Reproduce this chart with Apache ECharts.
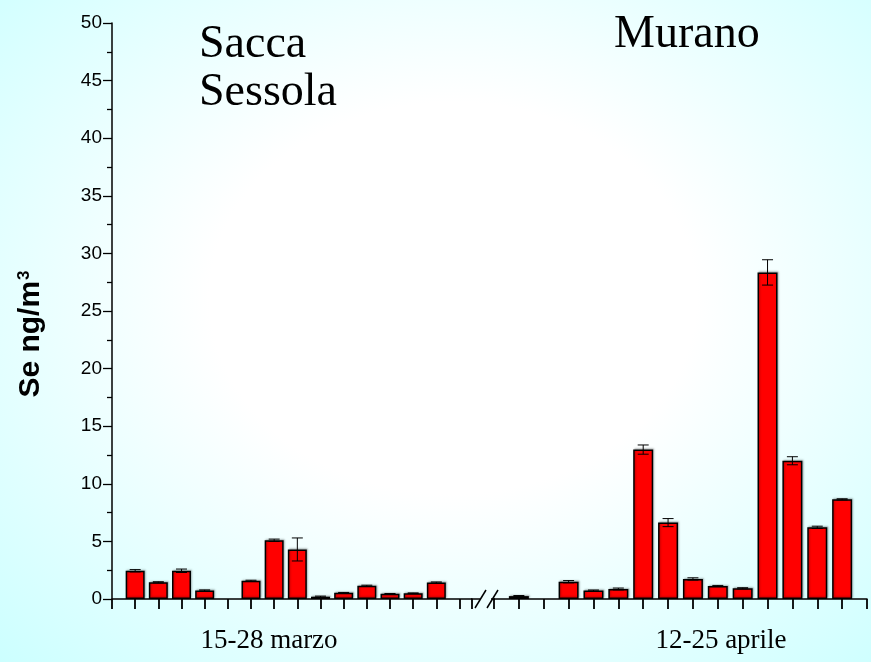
<!DOCTYPE html>
<html>
<head>
<meta charset="utf-8">
<script src="https://cdn.jsdelivr.net/npm/echarts@6/dist/echarts.min.js"></script>
<style>
html,body{margin:0;padding:0;}
#c{width:871px;height:662px;background:radial-gradient(ellipse farthest-corner at 52% 45%, #ffffff 0%, #ffffff 38%, #ccffff 100%);}
</style>
</head>
<body>
<div id="c"></div>
<script>
// slot positions along each axis segment (tick index)
const marzoSlots  = [1, 2, 3, 4, 5, 6, 7, 8, 9, 10, 11, 12, 13, 14];
const marzoValues = [2.45, 1.45, 2.45, 0.74, null, 1.58, 5.1, 4.3, 0.2, 0.54, 1.15, 0.45, 0.5, 1.43];
const marzoErrors = [0.1, 0.05, 0.15, 0.05, null, 0.05, 0.1, 1.0, 0.05, 0.03, 0.05, 0.03, 0.03, 0.05];
const aprileSlots  = [1, 2, 3, 4, 5, 6, 7, 8, 9, 10, 11, 12, 13, 14];
const aprileValues = [0.25, null, 1.5, 0.73, 0.87, 12.97, 6.63, 1.74, 1.13, 0.93, 28.35, 12.0, 6.22, 8.65];
const aprileErrors = [0.05, null, 0.1, 0.05, 0.08, 0.4, 0.35, 0.1, 0.05, 0.05, 1.1, 0.35, 0.1, 0.05];
const yTicks = [0, 5, 10, 15, 20, 25, 30, 35, 40, 45, 50];
const marzoTickSlots = [0, 1, 2, 3, 4, 5, 6, 7, 8, 9, 10, 11, 12, 13, 14, 15, 15.54];
const aprileTickSlots = [0, 1, 2, 3, 4, 5, 6, 7, 8, 9, 10, 11, 12, 13, 14, 15];
const groupLabels = ['15-28 marzo', '12-25 aprile'];
const siteLabels = ['Sacca', 'Sessola', 'Murano'];

function pairs(slots, vals) {
  const out = [];
  slots.forEach((s, i) => { if (vals[i] != null) out.push([s, vals[i]]); });
  return out;
}
function triples(slots, vals, errs) {
  const out = [];
  slots.forEach((s, i) => { if (vals[i] != null) out.push([s, vals[i], errs[i]]); });
  return out;
}
function renderErr(params, api) {
  const x = api.value(0), v = api.value(1), e = api.value(2);
  const t = api.coord([x, v + e]);
  const b = api.coord([x, v - e]);
  const hw = 5.5;
  const st = { stroke: '#000', lineWidth: 1 };
  return { type: 'group', children: [
    { type: 'line', shape: { x1: t[0], y1: t[1], x2: b[0], y2: b[1] }, style: st },
    { type: 'line', shape: { x1: t[0] - hw, y1: t[1], x2: t[0] + hw, y2: t[1] }, style: st },
    { type: 'line', shape: { x1: b[0] - hw, y1: b[1], x2: b[0] + hw, y2: b[1] }, style: st }
  ]};
}

const axisLineStyle = { color: '#000', width: 1.5 };
const serif = "'Liberation Serif', 'Times New Roman', serif";
const sans = "'Liberation Sans', Arial, sans-serif";
const chart = echarts.init(document.getElementById('c'), null, { renderer: 'canvas' });
const barItem = { color: '#ff0000', borderColor: '#000', borderWidth: 1.5,
  shadowColor: 'rgba(0,0,0,0.25)', shadowBlur: 2, shadowOffsetX: 1, shadowOffsetY: -1 };

chart.setOption({
  backgroundColor: 'transparent',
  animation: false,
  grid: [
    { left: 112, top: 23, width: 360, height: 576 },
    { left: 494, top: 23, width: 373, height: 576 }
  ],
  xAxis: [
    { type: 'value', gridIndex: 0, min: 0, max: 15.54,
      axisLine: { show: true, onZero: false, lineStyle: axisLineStyle },
      axisTick: { show: true, length: 10, customValues: marzoTickSlots, lineStyle: { color: '#000', width: 1.8 } },
      axisLabel: { show: false }, splitLine: { show: false } },
    { type: 'value', gridIndex: 1, min: 0, max: 15,
      axisLine: { show: true, onZero: false, lineStyle: axisLineStyle },
      axisTick: { show: true, length: 10, customValues: aprileTickSlots, lineStyle: { color: '#000', width: 1.8 } },
      axisLabel: { show: false }, splitLine: { show: false } }
  ],
  yAxis: [
    { type: 'value', gridIndex: 0, min: 0, max: 50, interval: 5,
      axisLine: { show: true, lineStyle: axisLineStyle },
      axisTick: { show: true, length: 9, lineStyle: { color: '#000', width: 1.3 } },
      minorTick: { show: true, splitNumber: 2, length: 5, lineStyle: { color: '#000', width: 1.3 } },
      axisLabel: { fontSize: 19, color: '#000', fontFamily: sans, margin: 10,
        customValues: yTicks },
      splitLine: { show: false } },
    { type: 'value', gridIndex: 1, min: 0, max: 50, show: false, splitLine: { show: false } }
  ],
  series: [
    { type: 'bar', xAxisIndex: 0, yAxisIndex: 0, barWidth: 19, data: pairs(marzoSlots, marzoValues), itemStyle: barItem },
    { type: 'bar', xAxisIndex: 1, yAxisIndex: 1, barWidth: 20, data: pairs(aprileSlots, aprileValues), itemStyle: barItem },
    { type: 'custom', xAxisIndex: 0, yAxisIndex: 0, renderItem: renderErr, encode: { x: 0, y: 1 },
      data: triples(marzoSlots, marzoValues, marzoErrors), z: 5 },
    { type: 'custom', xAxisIndex: 1, yAxisIndex: 1, renderItem: renderErr, encode: { x: 0, y: 1 },
      data: triples(aprileSlots, aprileValues, aprileErrors), z: 5 }
  ],
  graphic: [
    { type: 'line', shape: { x1: 471, y1: 599, x2: 480, y2: 599 }, style: { stroke: '#000', lineWidth: 1.5 } },
    { type: 'line', shape: { x1: 491, y1: 599, x2: 495, y2: 599 }, style: { stroke: '#000', lineWidth: 1.5 } },
    { type: 'line', shape: { x1: 475, y1: 608, x2: 486, y2: 590 }, style: { stroke: '#000', lineWidth: 1.5 } },
    { type: 'line', shape: { x1: 487, y1: 608, x2: 498, y2: 590 }, style: { stroke: '#000', lineWidth: 1.5 } },
    { type: 'text', x: 199, y: 45, style: { text: siteLabels[0], font: '46px ' + serif, fill: '#000', textVerticalAlign: 'middle' } },
    { type: 'text', x: 199, y: 93, style: { text: siteLabels[1], font: '46px ' + serif, fill: '#000', textVerticalAlign: 'middle' } },
    { type: 'text', x: 614, y: 35, style: { text: siteLabels[2], font: '46px ' + serif, fill: '#000', textVerticalAlign: 'middle' } },
    { type: 'text', x: 269, y: 641, style: { text: groupLabels[0], font: '27px ' + serif, fill: '#000', textAlign: 'center', textVerticalAlign: 'middle' } },
    { type: 'text', x: 721, y: 641, style: { text: groupLabels[1], font: '27px ' + serif, fill: '#000', textAlign: 'center', textVerticalAlign: 'middle' } },
    { type: 'text', x: 31, y: 334, rotation: Math.PI / 2,
      style: { text: 'Se ng/m{sup|3}', font: 'bold 30px ' + sans, fill: '#000',
        textAlign: 'center', textVerticalAlign: 'middle',
        rich: { sup: { fontSize: 17, fontWeight: 'bold', fontFamily: sans, fill: '#000', verticalAlign: 'top', lineHeight: 17, padding: [0, 0, 14, 1] } } } }
  ]
});
</script>
</body>
</html>
